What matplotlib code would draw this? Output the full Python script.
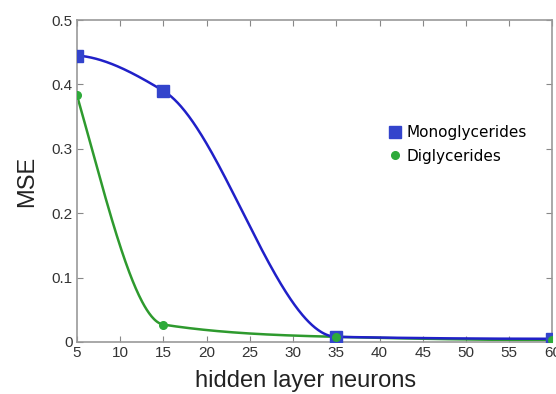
import numpy as np
import matplotlib
matplotlib.use("Agg")
import matplotlib.pyplot as plt

neurons = [5, 15, 35, 60]
mono = [0.445, 0.390, 0.008, 0.005]
di = [0.383, 0.027, 0.008, 0.003]
xticks = [5, 10, 15, 20, 25, 30, 35, 40, 45, 50, 55, 60]
yticks = [0, 0.1, 0.2, 0.3, 0.4, 0.5]


def pchip(x, y, xs):
    x = np.asarray(x, float); y = np.asarray(y, float)
    h = np.diff(x); d = np.diff(y) / h
    n = len(x); m = np.zeros(n)
    for k in range(1, n - 1):
        if d[k - 1] * d[k] > 0:
            w1 = 2 * h[k] + h[k - 1]; w2 = h[k] + 2 * h[k - 1]
            m[k] = (w1 + w2) / (w1 / d[k - 1] + w2 / d[k])
    def end(h0, h1, d0, d1):
        s = ((2 * h0 + h1) * d0 - h0 * d1) / (h0 + h1)
        if np.sign(s) != np.sign(d0):
            s = 0
        elif np.sign(d0) != np.sign(d1) and abs(s) > abs(3 * d0):
            s = 3 * d0
        return s
    m[0] = end(h[0], h[1], d[0], d[1])
    m[-1] = end(h[-1], h[-2], d[-1], d[-2])
    idx = np.clip(np.searchsorted(x, xs) - 1, 0, n - 2)
    t = (xs - x[idx]) / h[idx]
    h00 = 2 * t**3 - 3 * t**2 + 1; h10 = t**3 - 2 * t**2 + t
    h01 = -2 * t**3 + 3 * t**2; h11 = t**3 - t**2
    return h00 * y[idx] + h10 * h[idx] * m[idx] + h01 * y[idx + 1] + h11 * h[idx] * m[idx + 1]


plt.rcParams['font.family'] = ['Liberation Sans', 'DejaVu Sans']
fig = plt.figure(figsize=(5.56, 3.94), dpi=100)
ax = fig.add_axes([0.1385, 0.132, 0.855, 0.817])

xs = np.linspace(5, 60, 600)
blue = '#2020c8'
green = '#2e9a2e'
ax.plot(xs, pchip(neurons, di, xs), color=green, lw=1.8, zorder=2)
ax.plot(xs, pchip(neurons, mono, xs), color=blue, lw=1.8, zorder=3)
ax.plot(neurons, mono, 's', color='#3344cc', ms=8, zorder=4, label='Monoglycerides')
ax.plot(neurons, di, 'o', color='#2eaa3a', ms=5.5, zorder=5, label='Diglycerides')

ax.set_xlim(5, 60)
ax.set_ylim(0, 0.5)
ax.set_xticks(xticks)
ax.set_yticks(yticks)
ax.set_yticklabels(['0', '0.1', '0.2', '0.3', '0.4', '0.5'])
ax.tick_params(direction='in', top=True, right=True, labelsize=11, colors='#888888',
               labelcolor='#333333', length=4, pad=3)
for s in ax.spines.values():
    s.set_color('#999999')
    s.set_linewidth(1.2)
ax.set_xlabel('hidden layer neurons', fontsize=17, color='#222222')
ax.xaxis.set_label_coords(0.48, -0.088)
ax.set_ylabel('MSE', fontsize=17, color='#222222', labelpad=10)
leg = ax.legend(loc='center left', bbox_to_anchor=(0.628, 0.614), frameon=False,
                prop={'family': 'DejaVu Sans', 'size': 11},
                handlelength=0.8, handletextpad=0.3, labelspacing=0.55)
fig.savefig('out.png', dpi=100)
